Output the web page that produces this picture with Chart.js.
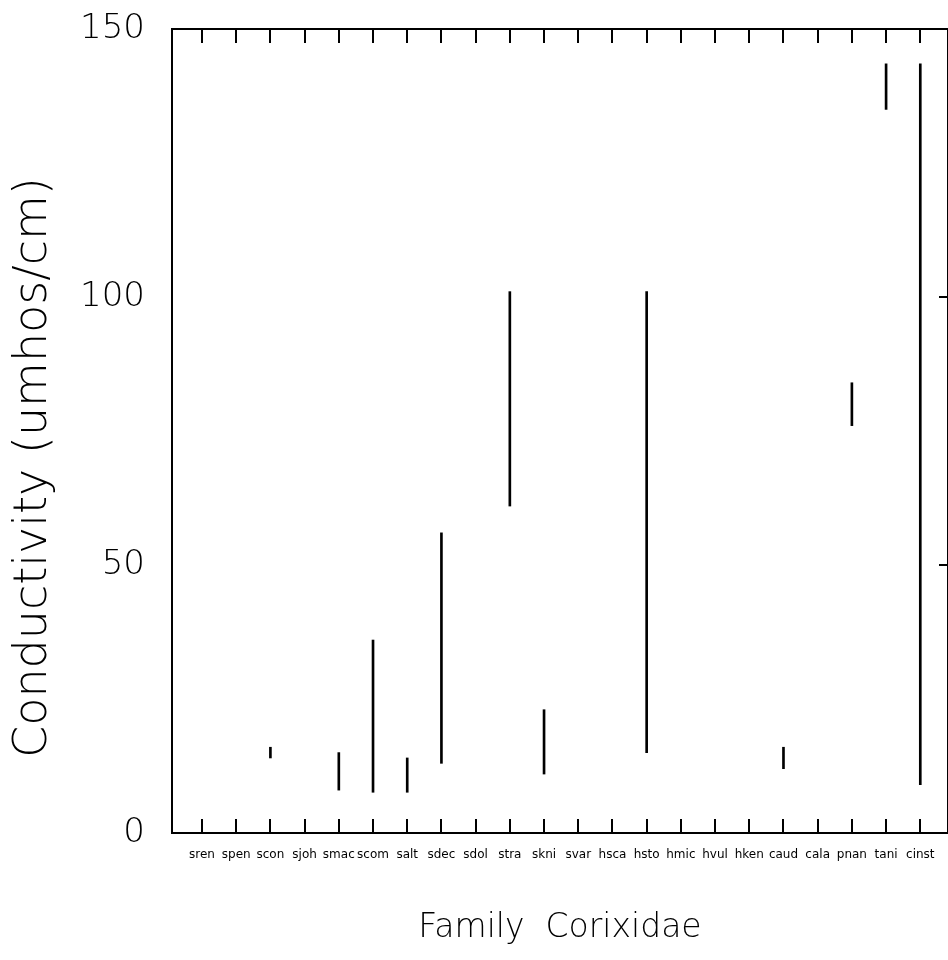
<!DOCTYPE html>
<html>
<head>
<meta charset="utf-8">
<script src="https://cdn.jsdelivr.net/npm/chart.js@4"></script>
<style>
  html, body { margin: 0; padding: 0; background: #fff; }
  #wrap { width: 948px; height: 960px; }
</style>
</head>
<body>
<div id="wrap"><canvas id="range-chart"></canvas></div>
<script>
const categories = ['sren', 'spen', 'scon', 'sjoh', 'smac', 'scom', 'salt', 'sdec', 'sdol', 'stra', 'skni',
  'svar', 'hsca', 'hsto', 'hmic', 'hvul', 'hken', 'caud', 'cala', 'pnan', 'tani', 'cinst'];
const lowValues = [null, null, 14, null, 8, 7.6, 7.6, 13, null, 61, 11, null, null, 15, null, null, null, 12, null, 76, 135, 9];
const highValues = [null, null, 16, null, 15, 36, 14, 56, null, 101, 23, null, null, 101, null, null, null, 16, null, 84, 143.5, 143.5];
const yTicks = [0, 50, 100, 150];
const rightTicks = [50, 100];

const lightFont = '"DejaVu Sans"';

function rangeData() {
  let points = [];
  for (let i = 0; i < categories.length; i++) {
    if (lowValues[i] === null) continue;
    points.push({ x: i + 1, y: [lowValues[i], highValues[i]] });
  }
  return points
}

// frame and inward tick marks like the original plot
const frameTicks = {
  id: 'frameTicks',
  afterDatasetsDraw(chart) {
    const { ctx, chartArea: a, scales } = chart;
    ctx.save();
    ctx.strokeStyle = '#000';
    ctx.lineWidth = 2;
    ctx.strokeRect(a.left, a.top, a.right - a.left, a.bottom - a.top);
    ctx.beginPath();
    categories.forEach((c, i) => {
      const x = Math.round(scales.x.getPixelForValue(i + 1));
      ctx.moveTo(x, a.bottom);
      ctx.lineTo(x, a.bottom - 14);
      ctx.moveTo(x, a.top);
      ctx.lineTo(x, a.top + 14);
    });
    rightTicks.forEach(v => {
      const y = Math.round(scales.y.getPixelForValue(v));
      ctx.moveTo(a.right, y);
      ctx.lineTo(a.right - 9, y);
    });
    ctx.stroke();
    ctx.restore();
  }
};

new Chart(document.getElementById('range-chart'), {
  type: 'bar',
  data: {
    datasets: [{
      data: rangeData(),
      backgroundColor: '#000',
      borderWidth: 0,
      barThickness: 2
    }]
  },
  options: {
    responsive: true,
    maintainAspectRatio: false,
    animation: false,
    layout: { padding: { top: 29, right: 0, bottom: 0, left: 0 } },
    plugins: { legend: { display: false }, tooltip: { enabled: false } },
    scales: {
      x: {
        type: 'linear',
        offset: false,
        min: 0.123,
        max: 22.81,
        grid: { display: false, drawTicks: false, offset: false },
        border: { display: false },
        afterBuildTicks: scale => {
          scale.ticks = categories.map((c, i) => ({ value: i + 1 }));
        },
        afterFit: scale => {
          scale.height = 127;
          scale.paddingLeft = 0;
          scale.paddingRight = 0;
        },
        ticks: {
          autoSkip: false,
          maxRotation: 0,
          minRotation: 0,
          padding: 15,
          color: '#000',
          font: { family: lightFont, size: 12 },
          callback: v => categories[v - 1]
        },
        title: {
          display: true,
          text: 'Family  Corixidae',
          color: '#000',
          font: { family: lightFont, size: 33, weight: 200 },
          padding: { top: 0, bottom: 12 }
        }
      },
      y: {
        min: 0,
        max: 150,
        grid: { display: false, drawTicks: false },
        border: { display: false },
        afterBuildTicks: scale => {
          scale.ticks = yTicks.map(v => ({ value: v }));
        },
        afterFit: scale => {
          scale.width = 172;
          scale.paddingTop = 0;
          scale.paddingBottom = 0;
        },
        ticks: {
          padding: 27,
          color: '#000',
          font: { family: lightFont, size: 34, weight: 200 }
        },
        title: {
          display: true,
          text: 'Conductivity (umhos/cm)     ',
          color: '#000',
          font: { family: lightFont, size: 46, weight: 200 },
          padding: { top: 6, bottom: 0 }
        }
      }
    }
  },
  plugins: [frameTicks]
});
</script>
</body>
</html>
